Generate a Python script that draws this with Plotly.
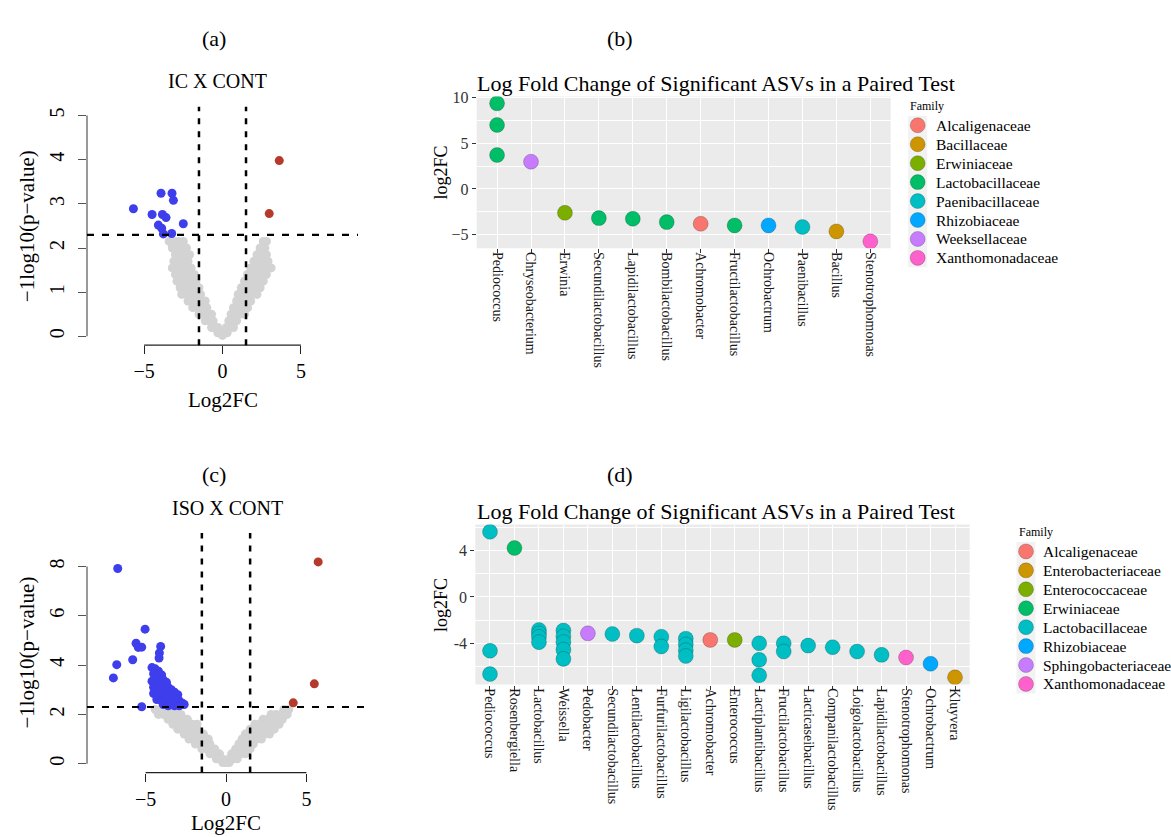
import plotly.graph_objects as go

W, H = 1171, 837
SERIF = "Liberation Serif"

# ---------------- (a) IC X CONT volcano ----------------
# non-significant ASVs, grouped by -log10(p) level: (level, [log2FC values])
ic_ns_rows = [
    (2.15, [-3.4, -3.1, -2.8, -2.5, 2.6, 2.8]),
    (2.00, [-3.2, -2.9, -2.6, -2.3, 2.4, 2.7]),
    (1.85, [-3.0, -2.7, -2.4, -2.1, 2.2, 2.5, 2.8]),
    (1.70, [-3.1, -2.8, -2.5, -2.2, 2.0, 2.3, 2.6, 2.9]),
    (1.55, [-3.2, -2.9, -2.6, -2.3, -2.0, 1.8, 2.1, 2.4, 2.7, 3.1]),
    (1.40, [-3.0, -2.7, -2.4, -2.1, -1.8, 1.6, 1.9, 2.2, 2.5, 2.8]),
    (1.25, [-2.9, -2.6, -2.3, -2.0, -1.7, 1.4, 1.7, 2.0, 2.3, 2.6]),
    (1.10, [-2.7, -2.4, -2.1, -1.8, -1.5, 1.2, 1.5, 1.8, 2.1, 2.4]),
    (0.95, [-2.6, -2.3, -2.0, -1.7, -1.4, 1.0, 1.3, 1.6, 1.9, 2.2]),
    (0.80, [-2.2, -1.9, -1.6, -1.3, -1.1, 0.9, 1.2, 1.5, 1.8]),
    (0.65, [-1.9, -1.6, -1.3, -1.0, 0.7, 1.0, 1.3, 1.6]),
    (0.50, [-1.5, -1.2, -0.9, -0.7, 0.55, 0.8, 1.1, 1.4]),
    (0.35, [-1.1, -0.8, -0.6, 0.4, 0.65, 0.9]),
    (0.20, [-0.7, -0.5, -0.3, 0.25, 0.45, 0.7]),
    (0.08, [-0.3, -0.1, 0.1, 0.3]),
    (0.02, [0.0]),
]
ic_down_lfc = [-5.68, -3.92, -3.22, -3.13, -4.49, -3.83, -3.60, -2.50, -4.09, -3.88, -3.77, -3.24]
ic_down_p = [2.89, 3.24, 3.24, 3.08, 2.76, 2.76, 2.69, 2.55, 2.52, 2.45, 2.32, 2.33]
ic_up_lfc = [3.62, 2.98]
ic_up_p = [3.98, 2.78]

# ---------------- (c) ISO X CONT volcano ----------------
iso_ns_rows = [
    (2.20, [-4.4, -4.1, -3.8, -3.5, -3.2, 3.6, 3.9]),
    (2.00, [-4.2, -3.9, -3.6, -3.3, -3.0, -2.8, 2.8, 3.1, 3.4, 3.8]),
    (1.80, [-3.6, -3.3, -3.0, -2.7, -2.4, 2.3, 2.6, 2.9, 3.2, 3.5]),
    (1.60, [-3.3, -3.0, -2.7, -2.4, -2.1, -1.8, 1.8, 2.1, 2.4, 2.7, 3.0, 3.3]),
    (1.40, [-3.0, -2.7, -2.4, -2.1, -1.8, 1.5, 1.8, 2.1, 2.4, 2.7, 3.0]),
    (1.20, [-2.6, -2.3, -2.0, -1.7, -1.4, 1.2, 1.5, 1.8, 2.1, 2.4, 2.7]),
    (1.00, [-2.3, -2.0, -1.7, -1.4, -1.1, 1.0, 1.3, 1.6, 1.9, 2.2]),
    (0.80, [-1.9, -1.6, -1.3, -1.0, 0.8, 1.1, 1.4, 1.7]),
    (0.60, [-1.5, -1.2, -0.9, -0.7, 0.6, 0.9, 1.2, 1.5]),
    (0.40, [-1.0, -0.8, -0.6, -0.4, 0.35, 0.6, 0.9, 1.2]),
    (0.20, [-0.6, -0.4, -0.25, 0.2, 0.45, 0.7]),
    (0.05, [-0.2, 0.0, 0.2]),
]
iso_down_lfc = [-6.73, -5.03, -5.59, -5.45, -5.24, -4.06, -4.14, -4.16, -5.80, -6.79, -7.00, -5.24,
                -4.6, -4.4, -4.2, -4.5, -4.3, -4.0, -4.6, -4.4, -4.2, -3.9, -3.7, -4.5, -4.3,
                -4.1, -3.9, -3.6, -3.4, -4.5, -4.2, -4.0, -3.8, -3.5, -3.2, -3.0, -4.3, -4.0,
                -3.8, -3.6, -3.3, -3.1, -2.9, -2.7, -3.9, -3.6, -3.4, -3.2, -2.9, -2.6]
iso_down_p = [7.92, 5.46, 4.89, 4.72, 4.73, 4.76, 4.49, 4.29, 4.22, 4.02, 3.48, 2.31,
              3.90, 3.85, 3.75, 3.65, 3.55, 3.60, 3.35, 3.30, 3.40, 3.40, 3.30, 3.10, 3.05,
              3.15, 3.05, 3.10, 3.00, 2.85, 2.80, 2.90, 2.80, 2.85, 2.90, 2.80, 2.60, 2.55,
              2.60, 2.60, 2.65, 2.60, 2.55, 2.45, 2.40, 2.35, 2.40, 2.35, 2.35, 2.40]
iso_up_lfc = [5.73, 5.49, 4.18]
iso_up_p = [8.19, 3.24, 2.47]

# ---------------- (b) paired test, IC ----------------
ic_genera = ["Pediococcus", "Chryseobacterium", "Erwinia", "Secundilactobacillus",
             "Lapidilactobacillus", "Bombilactobacillus", "Achromobacter",
             "Fructilactobacillus", "Ochrobactrum", "Paenibacillus", "Bacillus",
             "Stenotrophomonas"]
ic_families = ["Alcaligenaceae", "Bacillaceae", "Erwiniaceae", "Lactobacillaceae",
               "Paenibacillaceae", "Rhizobiaceae", "Weeksellaceae", "Xanthomonadaceae"]
ic_asv_genus = ["Pediococcus", "Pediococcus", "Pediococcus", "Chryseobacterium", "Erwinia",
                "Secundilactobacillus", "Lapidilactobacillus", "Bombilactobacillus",
                "Achromobacter", "Fructilactobacillus", "Ochrobactrum", "Paenibacillus",
                "Bacillus", "Stenotrophomonas"]
ic_asv_family = ["Lactobacillaceae", "Lactobacillaceae", "Lactobacillaceae", "Weeksellaceae",
                 "Erwiniaceae", "Lactobacillaceae", "Lactobacillaceae", "Lactobacillaceae",
                 "Alcaligenaceae", "Lactobacillaceae", "Rhizobiaceae", "Paenibacillaceae",
                 "Bacillaceae", "Xanthomonadaceae"]
ic_asv_lfc = [9.38, 7.01, 3.71, 2.98, -2.62, -3.20, -3.27, -3.64, -3.82, -4.00, -4.00, -4.18,
              -4.66, -5.75]

# ---------------- (d) paired test, ISO ----------------
iso_genera = ["Pediococcus", "Rosenbergiella", "Lactobacillus", "Weissella", "Pedobacter",
              "Secundilactobacillus", "Lentilactobacillus", "Furfurilactobacillus",
              "Ligilactobacillus", "Achromobacter", "Enterococcus", "Lactiplantibacillus",
              "Fructilactobacillus", "Lacticaseibacillus", "Companilactobacillus",
              "Loigolactobacillus", "Lapidilactobacillus", "Stenotrophomonas",
              "Ochrobactrum", "Kluyvera"]
iso_families = ["Alcaligenaceae", "Enterobacteriaceae", "Enterococcaceae", "Erwiniaceae",
                "Lactobacillaceae", "Rhizobiaceae", "Sphingobacteriaceae", "Xanthomonadaceae"]
iso_asv_genus = ["Pediococcus", "Pediococcus", "Pediococcus", "Rosenbergiella",
                 "Lactobacillus", "Lactobacillus", "Lactobacillus", "Lactobacillus",
                 "Weissella", "Weissella", "Weissella", "Weissella", "Weissella",
                 "Pedobacter", "Secundilactobacillus", "Lentilactobacillus",
                 "Furfurilactobacillus", "Furfurilactobacillus",
                 "Ligilactobacillus", "Ligilactobacillus", "Ligilactobacillus", "Ligilactobacillus",
                 "Achromobacter", "Enterococcus",
                 "Lactiplantibacillus", "Lactiplantibacillus", "Lactiplantibacillus",
                 "Fructilactobacillus", "Fructilactobacillus", "Lacticaseibacillus",
                 "Companilactobacillus", "Loigolactobacillus", "Lapidilactobacillus",
                 "Stenotrophomonas", "Ochrobactrum", "Kluyvera"]
iso_asv_family = ["Lactobacillaceae"] * 3 + ["Erwiniaceae"] + ["Lactobacillaceae"] * 9 + \
                 ["Sphingobacteriaceae"] + ["Lactobacillaceae"] * 8 + \
                 ["Alcaligenaceae", "Enterococcaceae"] + ["Lactobacillaceae"] * 9 + \
                 ["Xanthomonadaceae", "Rhizobiaceae", "Enterobacteriaceae"]
iso_asv_lfc = [5.63, -4.65, -6.66, 4.23,
               -2.85, -3.15, -3.45, -3.90,
               -2.90, -3.40, -3.90, -4.55, -5.35,
               -3.14, -3.20, -3.34,
               -3.43, -4.28,
               -3.60, -4.10, -4.60, -5.10,
               -3.71, -3.71,
               -4.00, -5.43, -6.77,
               -4.00, -4.71, -4.20,
               -4.34, -4.71, -5.00,
               -5.23, -5.77, -6.94]

# ggplot2 default hue palette for eight levels
HUE8 = ["#F8766D", "#CD9600", "#7CAE00", "#00BE67", "#00BFC4", "#00A9FF", "#C77CFF", "#FF61CC"]
NS_GRAY = "#D3D3D3"
DOWN_BLUE = "#3E3EEC"
UP_RED = "#B53A2C"
GG_PANEL = "#EBEBEB"
GG_KEY = "#F2F2F2"


def xdom(left, right):
    return [left / W, right / W]


def ydom(top, bottom):
    return [1 - bottom / H, 1 - top / H]


def r_range(lo, hi):
    pad = 0.04 * (hi - lo)
    return [lo - pad, hi + pad]


def gg_range(vals):
    lo, hi = min(vals), max(vals)
    pad = 0.05 * (hi - lo)
    return [lo - pad, hi + pad]


def flatten(rows):
    xs, ys = [], []
    for level, row in rows:
        for v in row:
            xs.append(v)
            ys.append(level)
    return xs, ys


fig = go.Figure()

# ---- volcano plots ----
volcanoes = [
    ("x", "y", ic_ns_rows, ic_down_lfc, ic_down_p, ic_up_lfc, ic_up_p),
    ("x3", "y3", iso_ns_rows, iso_down_lfc, iso_down_p, iso_up_lfc, iso_up_p),
]
for xa, ya, ns_rows, dx, dy, ux, uy in volcanoes:
    nx, ny = flatten(ns_rows)
    fig.add_trace(go.Scatter(x=nx, y=ny, mode="markers", xaxis=xa, yaxis=ya, showlegend=False,
                             marker=dict(size=9, color=NS_GRAY, line=dict(width=0))))
    fig.add_trace(go.Scatter(x=dx, y=dy, mode="markers", xaxis=xa, yaxis=ya, showlegend=False,
                             marker=dict(size=9, color=DOWN_BLUE, line=dict(width=0))))
    fig.add_trace(go.Scatter(x=ux, y=uy, mode="markers", xaxis=xa, yaxis=ya, showlegend=False,
                             marker=dict(size=9, color=UP_RED, line=dict(width=0))))

# ---- log fold change dot plots, one trace per family ----
dotplots = [
    ("x2", "y2", ic_families, ic_asv_genus, ic_asv_family, ic_asv_lfc),
    ("x4", "y4", iso_families, iso_asv_genus, iso_asv_family, iso_asv_lfc),
]
for xa, ya, fams, genus, family, lfc in dotplots:
    for k, fam in enumerate(fams):
        idx = [i for i, f in enumerate(family) if f == fam]
        fig.add_trace(go.Scatter(
            x=[genus[i] for i in idx], y=[lfc[i] for i in idx], mode="markers", name=fam,
            xaxis=xa, yaxis=ya, showlegend=False,
            marker=dict(size=15, color=HUE8[k], line=dict(width=0.8, color="rgba(0,0,0,0.25)"))))

# ---- axes ----
volcano_tick = dict(ticks="outside", ticklen=8, tickwidth=1, showgrid=False, zeroline=False,
                    showline=False, tickfont=dict(size=20, color="black", family=SERIF))
fig.update_layout(
    xaxis=dict(domain=xdom(87, 358), range=r_range(-8, 8), anchor="y",
               tickvals=[-5, 0, 5], ticktext=["\u22125", "0", "5"], tickcolor="#222", **volcano_tick),
    yaxis=dict(domain=ydom(100.6, 341), range=r_range(0, 5), anchor="x",
               tickvals=[0, 1, 2, 3, 4, 5], tickangle=-90, tickcolor="#555",
               ticklabelstandoff=6, **volcano_tick),
    xaxis3=dict(domain=xdom(87, 365), range=r_range(-8, 8), anchor="y3",
                tickvals=[-5, 0, 5], ticktext=["\u22125", "0", "5"], tickcolor="#222", **volcano_tick),
    yaxis3=dict(domain=ydom(530.5, 772), range=r_range(0, 9), anchor="x3",
                tickvals=[0, 2, 4, 6, 8], tickangle=-90, tickcolor="#555",
                ticklabelstandoff=6, **volcano_tick),
)

gg_x = dict(type="category", tickangle=90, ticks="outside", ticklen=4, tickcolor="#333",
            tickfont=dict(size=14, color="#1a1a1a", family=SERIF), showgrid=True,
            gridcolor="white", gridwidth=1.4, zeroline=False, showline=False,
            ticklabelstandoff=-4)
gg_y = dict(ticks="outside", ticklen=4, tickcolor="#333", showgrid=True, gridcolor="white",
            gridwidth=1.4, zeroline=False, showline=False,
            tickfont=dict(size=16, color="#333", family=SERIF))
fig.update_layout(
    xaxis2=dict(domain=xdom(476.7, 890.7), anchor="y2", categoryorder="array",
                categoryarray=ic_genera, range=[-0.6, len(ic_genera) - 0.4], **gg_x),
    yaxis2=dict(domain=ydom(90.2, 243.3), anchor="x2", range=gg_range(ic_asv_lfc),
                tickvals=[-5, 0, 5, 10],
                minor=dict(tickvals=[-2.5, 2.5, 7.5], showgrid=True, gridcolor="white",
                           gridwidth=0.6), **gg_y),
    xaxis4=dict(domain=xdom(475.3, 969.7), anchor="y4", categoryorder="array",
                categoryarray=iso_genera, range=[-0.6, len(iso_genera) - 0.4], **gg_x),
    yaxis4=dict(domain=ydom(521.9, 683.3), anchor="x4", range=gg_range(iso_asv_lfc),
                tickvals=[-4, 0, 4], ticktext=["-4", "0", "4"],
                minor=dict(tickvals=[-6, -2, 2, 6], showgrid=True, gridcolor="white",
                           gridwidth=0.6), **gg_y),
)

# ---- shapes: ggplot panel backgrounds, R axis lines, threshold lines ----
shapes = []
for xa, ya in (("x2", "y2"), ("x4", "y4")):
    shapes.append(dict(type="rect", xref=f"{xa} domain", yref=f"{ya} domain", x0=0, x1=1, y0=0, y1=1,
                       fillcolor=GG_PANEL, line=dict(width=0), layer="below"))
for xa, ya, ytop in (("x", "y", 5), ("x3", "y3", 8)):
    shapes.append(dict(type="line", xref=xa, yref=f"{ya} domain", x0=-5, x1=5, y0=0, y1=0,
                       line=dict(color="#222", width=1.2)))
    shapes.append(dict(type="line", xref=f"{xa} domain", yref=ya, x0=0, x1=0, y0=0, y1=ytop,
                       line=dict(color="#555", width=1.2)))
    for fc in (-1.5, 1.5):
        shapes.append(dict(type="line", xref=xa, yref=f"{ya} domain", x0=fc, x1=fc, y0=0, y1=1,
                           line=dict(color="black", width=2.5, dash="6px,7px")))
    shapes.append(dict(type="line", xref=f"{xa} domain", yref=ya, x0=0, x1=1, y0=2.3, y1=2.3,
                       line=dict(color="black", width=2.2, dash="7px,8px")))


# ---- text ----
def label(text, x, y, size, angle=0, xanchor="center", color="black"):
    return dict(text=text, x=x / W, y=1 - y / H, xref="paper", yref="paper", showarrow=False,
                xanchor=xanchor, yanchor="middle", textangle=angle,
                font=dict(size=size, family=SERIF, color=color))


title_text = "Log Fold Change of Significant ASVs in a Paired Test"
annotations = [
    label("(a)", 214, 32, 22), label("(b)", 620, 32, 22),
    label("(c)", 214, 471, 22), label("(d)", 620, 471, 22),
    label("IC X CONT", 217, 75, 20), label("ISO X CONT", 227, 505, 20),
    label("Log2FC", 222.5, 396, 21), label("Log2FC", 226, 823, 21),
    label("\u22121log10(p\u2212value)", 27, 221, 21, angle=-90),
    label("\u22121log10(p\u2212value)", 27, 651, 21, angle=-90),
    label(title_text, 475, 77, 22, xanchor="left"),
    label(title_text, 475, 509, 22, xanchor="left"),
    label("log2FC", 441, 167, 18, angle=-90),
    label("log2FC", 441, 603, 18, angle=-90),
]

# ---- family legends (ggplot style: grey95 keys, 19 px rows) ----
LEGEND_ROW = 19.1
legends = [
    (ic_families, 917.7, 934.3, 119.3),    # key centre x, text left x, first row y
    (iso_families, 1026.0, 1040.5, 549.0),
]
for fams, key_x, text_x, row0 in legends:
    rows = [row0 + i * LEGEND_ROW for i in range(len(fams))]
    annotations.append(label("Family", key_x - 9.5, row0 - LEGEND_ROW, 12, xanchor="left"))
    shapes.append(dict(type="rect", xref="paper", yref="paper",
                       x0=(key_x - 9.5) / W, x1=(key_x + 9.5) / W,
                       y0=1 - (rows[-1] + 9.5) / H, y1=1 - (rows[0] - 9.5) / H,
                       fillcolor=GG_KEY, line=dict(width=0), layer="below"))
    for k, (fam, ry) in enumerate(zip(fams, rows)):
        shapes.append(dict(type="circle", xref="paper", yref="paper",
                           xsizemode="pixel", ysizemode="pixel",
                           xanchor=key_x / W, yanchor=1 - ry / H,
                           x0=-7.5, x1=7.5, y0=-7.5, y1=7.5,
                           fillcolor=HUE8[k], line=dict(width=0.8, color="rgba(0,0,0,0.25)")))
        annotations.append(label(fam, text_x, ry, 15.5, xanchor="left"))

fig.update_layout(
    shapes=shapes, annotations=annotations,
    width=W, height=H, margin=dict(l=0, r=0, t=0, b=0),
    paper_bgcolor="white", plot_bgcolor="rgba(0,0,0,0)",
    font=dict(family=SERIF, color="black"), showlegend=False,
)

fig.write_html("out.html")
